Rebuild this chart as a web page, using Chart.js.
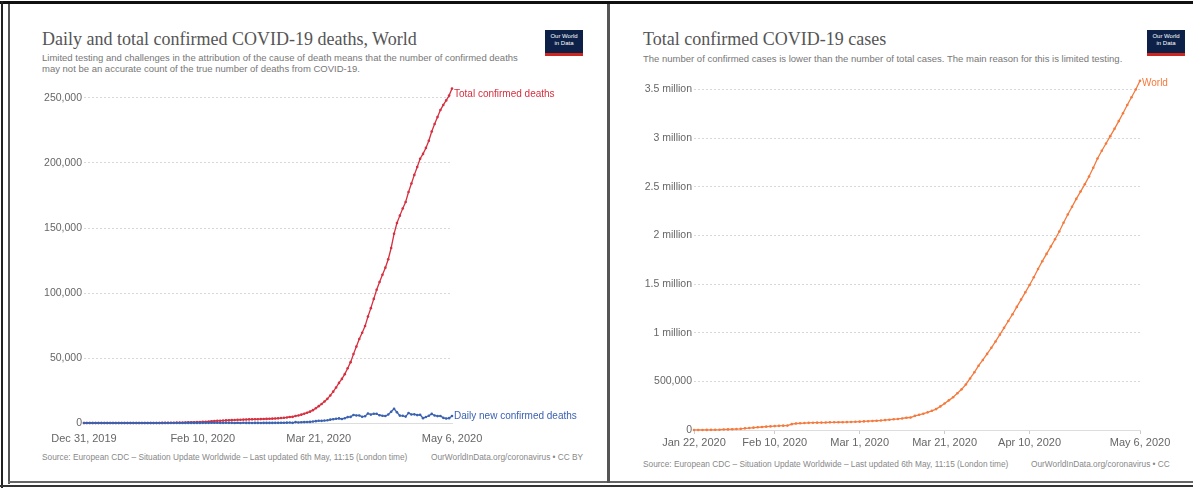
<!DOCTYPE html>
<html>
<head>
<meta charset="utf-8">
<script src="https://cdn.jsdelivr.net/npm/chart.js@4.4.1/dist/chart.umd.min.js"></script>
<style>
  html, body { margin: 0; padding: 0; background: #fff; }
  body { width: 1193px; height: 489px; position: relative; overflow: hidden; font-family: "Liberation Sans", Arial, sans-serif; }
  .line { position: absolute; }
  .title { position: absolute; font-family: "Liberation Serif", "Times New Roman", serif; font-size: 18px; color: #555; white-space: nowrap; }
  .sub { position: absolute; font-size: 9.5px; line-height: 11px; color: #777; white-space: nowrap; }
  .src { position: absolute; font-size: 8.3px; color: #888; white-space: nowrap; }
  .logo { position: absolute; width: 38px; height: 20px; background: #0d2148; border-bottom: 3px solid #ce261e; color: #fff; font-size: 6px; line-height: 7px; text-align: center; padding-top: 3px; box-sizing: content-box; }
  canvas { position: absolute; }
</style>
</head>
<body>
<!-- screenshot frame -->
<div class="line" style="left:0;top:1px;width:1193px;height:3px;background:#111"></div>
<div class="line" style="left:1px;top:1px;width:2px;height:487px;background:#222"></div>
<div class="line" style="left:8px;top:4px;width:2px;height:480px;background:#555"></div>
<div class="line" style="left:0;top:485px;width:1193px;height:2px;background:#333"></div>
<div class="line" style="left:8px;top:481px;width:1185px;height:2px;background:#666"></div>
<div class="line" style="left:607px;top:4px;width:3px;height:479px;background:#555"></div>

<div class="title" style="left:42px;top:29px">Daily and total confirmed COVID-19 deaths, World</div>
<div class="sub" style="left:42px;top:52px">Limited testing and challenges in the attribution of the cause of death means that the number of confirmed deaths<br>may not be an accurate count of the true number of deaths from COVID-19.</div>
<div class="logo" style="left:545px;top:30px">Our World<br>in Data</div>
<canvas id="deathsChart" width="560" height="375" style="left:20px;top:75px;width:560px;height:375px"></canvas>
<div class="src" style="left:42px;top:452px">Source: European CDC – Situation Update Worldwide – Last updated 6th May, 11:15 (London time)</div>
<div class="src" style="left:431px;top:452px">OurWorldInData.org/coronavirus • CC BY</div>

<div class="title" style="left:643px;top:29px">Total confirmed COVID-19 cases</div>
<div class="sub" style="left:643px;top:53px">The number of confirmed cases is lower than the number of total cases. The main reason for this is limited testing.</div>
<div class="logo" style="left:1147px;top:30px">Our World<br>in Data</div>
<canvas id="casesChart" width="561" height="397" style="left:624px;top:60px;width:561px;height:397px"></canvas>
<div class="src" style="left:643px;top:459px">Source: European CDC – Situation Update Worldwide – Last updated 6th May, 11:15 (London time)</div>
<div class="src" style="left:1031px;top:459px">OurWorldInData.org/coronavirus • CC</div>

<script>
// deaths: one value per day, Dec 31, 2019 .. May 6, 2020
const totalDeaths = [
  0, 0, 0, 0, 0, 0, 0, 0, 0, 0, 0,
  1, 1, 1, 1, 1, 1, 1, 1, 1,
  3, 6, 17, 18, 26, 42, 56, 82, 131, 133, 171, 213,
  259, 305, 362, 426, 492, 564, 634, 719, 806, 906, 1013, 1113, 1370, 1523, 1666, 1770, 1868, 2008, 2123, 2247, 2251, 2458, 2469, 2629, 2708, 2770, 2814, 2872, 2941,
  2996, 3085, 3160, 3254, 3348, 3460, 3558, 3802, 3988, 4262, 4615, 4720, 5404, 5819, 6440, 7126, 7905, 8733, 9867, 11299, 12973, 14623, 16497, 18589, 21181, 24103, 27324, 30852, 33925, 37582, 42107,
  46809, 52983, 58787, 64606, 69374, 74565, 81865, 88338, 95455, 102525, 108503, 114090, 119483, 125983, 134615, 145521, 153822, 159510, 165044, 169986, 177641, 184217, 190858, 196923, 203269, 206997, 211609, 217153, 224172, 229971,
  235290, 240713, 244663, 248144, 251857, 257239
];
const dailyDeaths = [
  0, 0, 0, 0, 0, 0, 0, 0, 0, 0, 0,
  1, 0, 0, 0, 0, 0, 0, 0, 0,
  2, 3, 11, 1, 8, 16, 14, 26, 49, 2, 38, 42,
  46, 46, 57, 64, 66, 72, 70, 85, 87, 100, 107, 100, 257, 153, 143, 104, 98, 140, 115, 124, 4, 207, 11, 160, 79, 62, 44, 58, 69,
  55, 89, 75, 94, 94, 112, 98, 244, 186, 274, 353, 105, 684, 415, 621, 686, 779, 828, 1134, 1432, 1674, 1650, 1874, 2092, 2592, 2922, 3221, 3528, 3073, 3657, 4525,
  4702, 6174, 5804, 5819, 4768, 5191, 7300, 6473, 7117, 7070, 5978, 5587, 5393, 6500, 8632, 10906, 8301, 5688, 5534, 4942, 7655, 6576, 6641, 6065, 6346, 3728, 4612, 5544, 7019, 5799,
  5319, 5423, 3950, 3481, 3713, 5382
];
// cases: one value per day, Jan 22 .. May 6, 2020
const totalCases = [
  330, 557, 655, 941, 1434, 2118, 2927, 5578, 6166, 8234,
  9927, 12038, 16787, 19887, 23898, 27643, 30802, 34395, 37129, 40160, 42769, 44811, 45229, 60381, 66909, 69052, 71235, 73270, 75152, 75652, 76212, 76843, 78599, 78985, 79570, 80415, 81397, 82756, 84124,
  86013, 88371, 90309, 92844, 95124, 97886, 101800, 105836, 109835, 113582, 118582, 125865, 128343, 145193, 156097, 167449, 181546, 197168, 214915, 242713, 272167, 304528, 336953, 378235, 418045, 467653, 529591, 593291, 660706, 720117, 782365,
  845000, 910000, 980000, 1050000, 1120000, 1190000, 1265000, 1340000, 1415000, 1490000, 1570000, 1655000, 1735000, 1810000, 1885000, 1960000, 2040000, 2130000, 2215000, 2295000, 2375000, 2450000, 2525000, 2605000, 2695000, 2790000, 2870000, 2945000, 3020000, 3095000,
  3175000, 3255000, 3340000, 3420000, 3500000, 3590000
];
const deathTicks = ['Dec 31, 2019', 'Feb 10, 2020', 'Mar 21, 2020', 'May 6, 2020'];
const caseTicks = ['Jan 22, 2020', 'Feb 10, 2020', 'Mar 1, 2020', 'Mar 21, 2020', 'Apr 10, 2020', 'May 6, 2020'];
const deathYTicks = [0, 50000, 100000, 150000, 200000, 250000];
const caseYTicks = [0, 500000, 1000000, 1500000, 2000000, 2500000, 3000000, 3500000];

const MONTHS = ['Jan', 'Feb', 'Mar', 'Apr', 'May', 'Jun', 'Jul', 'Aug', 'Sep', 'Oct', 'Nov', 'Dec'];
function dayLabels(y, m, d, n) {
  const out = [];
  for (let i = 0; i < n; i++) {
    const dt = new Date(Date.UTC(y, m, d + i));
    out.push(`${MONTHS[dt.getUTCMonth()]} ${dt.getUTCDate()}, ${dt.getUTCFullYear()}`);
  }
  return out;
}
const deathDates = dayLabels(2019, 11, 31, totalDeaths.length);
const caseDates = dayLabels(2020, 0, 22, totalCases.length);

Chart.defaults.font.family = '"Liberation Sans", Arial, sans-serif';
Chart.defaults.color = '#666';

// series name written at the end of each line, OWID style
const endLabels = {
  id: 'endLabels',
  afterDatasetsDraw(chart) {
    const ctx = chart.ctx;
    chart.data.datasets.forEach((ds, i) => {
      const pts = chart.getDatasetMeta(i).data;
      const p = pts[pts.length - 1];
      if (!p) return;
      ctx.save();
      ctx.font = '10px "Liberation Sans", Arial, sans-serif';
      ctx.fillStyle = ds.borderColor;
      ctx.textBaseline = 'middle';
      ctx.fillText(ds.label, p.x + 2, p.y + (ds.labelDy || 0));
      ctx.restore();
    });
  }
};

function lineSet(label, data, color, labelDy) {
  return {
    label, data, labelDy,
    borderColor: color,
    backgroundColor: color,
    borderWidth: 1.3,
    pointRadius: 1.3,
    pointBorderWidth: 0,
    pointBackgroundColor: color,
    tension: 0,
    clip: false
  };
}

function xAxis(labelsList, wanted, withTicks, pad) {
  return {
    type: 'category',
    offset: false,
    grid: { display: withTicks, drawOnChartArea: false, drawTicks: true, tickLength: 4, color: '#ccc' },
    border: { display: true, color: '#ddd', width: 1 },
    ticks: { autoSkip: false, maxRotation: 0, padding: pad, font: { size: 11 }, color: '#666',
      callback: (v) => labelsList[v] },
    afterBuildTicks: (s) => { s.ticks = s.ticks.filter(t => wanted.includes(labelsList[t.value])); },
    afterFit: (s) => { s.height = 27; }
  };
}

function yAxis(max, tickValues, width, fmt) {
  return {
    min: 0, max,
    grid: { color: '#d8d8d8', drawTicks: false, lineWidth: 1 },
    border: { display: false, dash: [2, 2] },
    ticks: { autoSkip: false, padding: 2, font: { size: 10.5 }, color: '#666', callback: fmt },
    afterBuildTicks: (s) => { s.ticks = tickValues.map(v => ({ value: v })); },
    afterFit: (s) => { s.width = width; }
  };
}

new Chart(document.getElementById('deathsChart'), {
  type: 'line',
  data: {
    labels: deathDates,
    datasets: [
      lineSet('Daily new confirmed deaths', dailyDeaths, '#3b62b0', 0),
      lineSet('Total confirmed deaths', totalDeaths, '#d62f3f', 6)
    ]
  },
  options: {
    responsive: false,
    animation: false,
    layout: { padding: { top: 10, right: 128, left: 0, bottom: 0 } },
    plugins: { legend: { display: false }, tooltip: { enabled: false } },
    scales: {
      x: xAxis(deathDates, deathTicks, false, 5),
      y: yAxis(260000, deathYTicks, 64, (v) => v.toLocaleString('en-US'))
    }
  },
  plugins: [endLabels]
});

new Chart(document.getElementById('casesChart'), {
  type: 'line',
  data: {
    labels: caseDates,
    datasets: [
      lineSet('World', totalCases, '#f47a3e', 3)
    ]
  },
  options: {
    responsive: false,
    animation: false,
    layout: { padding: { top: 10, right: 45, left: 0, bottom: 0 } },
    plugins: { legend: { display: false }, tooltip: { enabled: false } },
    scales: {
      x: xAxis(caseDates, caseTicks, true, 2),
      y: yAxis(3700000, caseYTicks, 70, (v) => v >= 1000000 ? (v / 1000000) + ' million' : v.toLocaleString('en-US'))
    }
  },
  plugins: [endLabels]
});
</script>
</body>
</html>
